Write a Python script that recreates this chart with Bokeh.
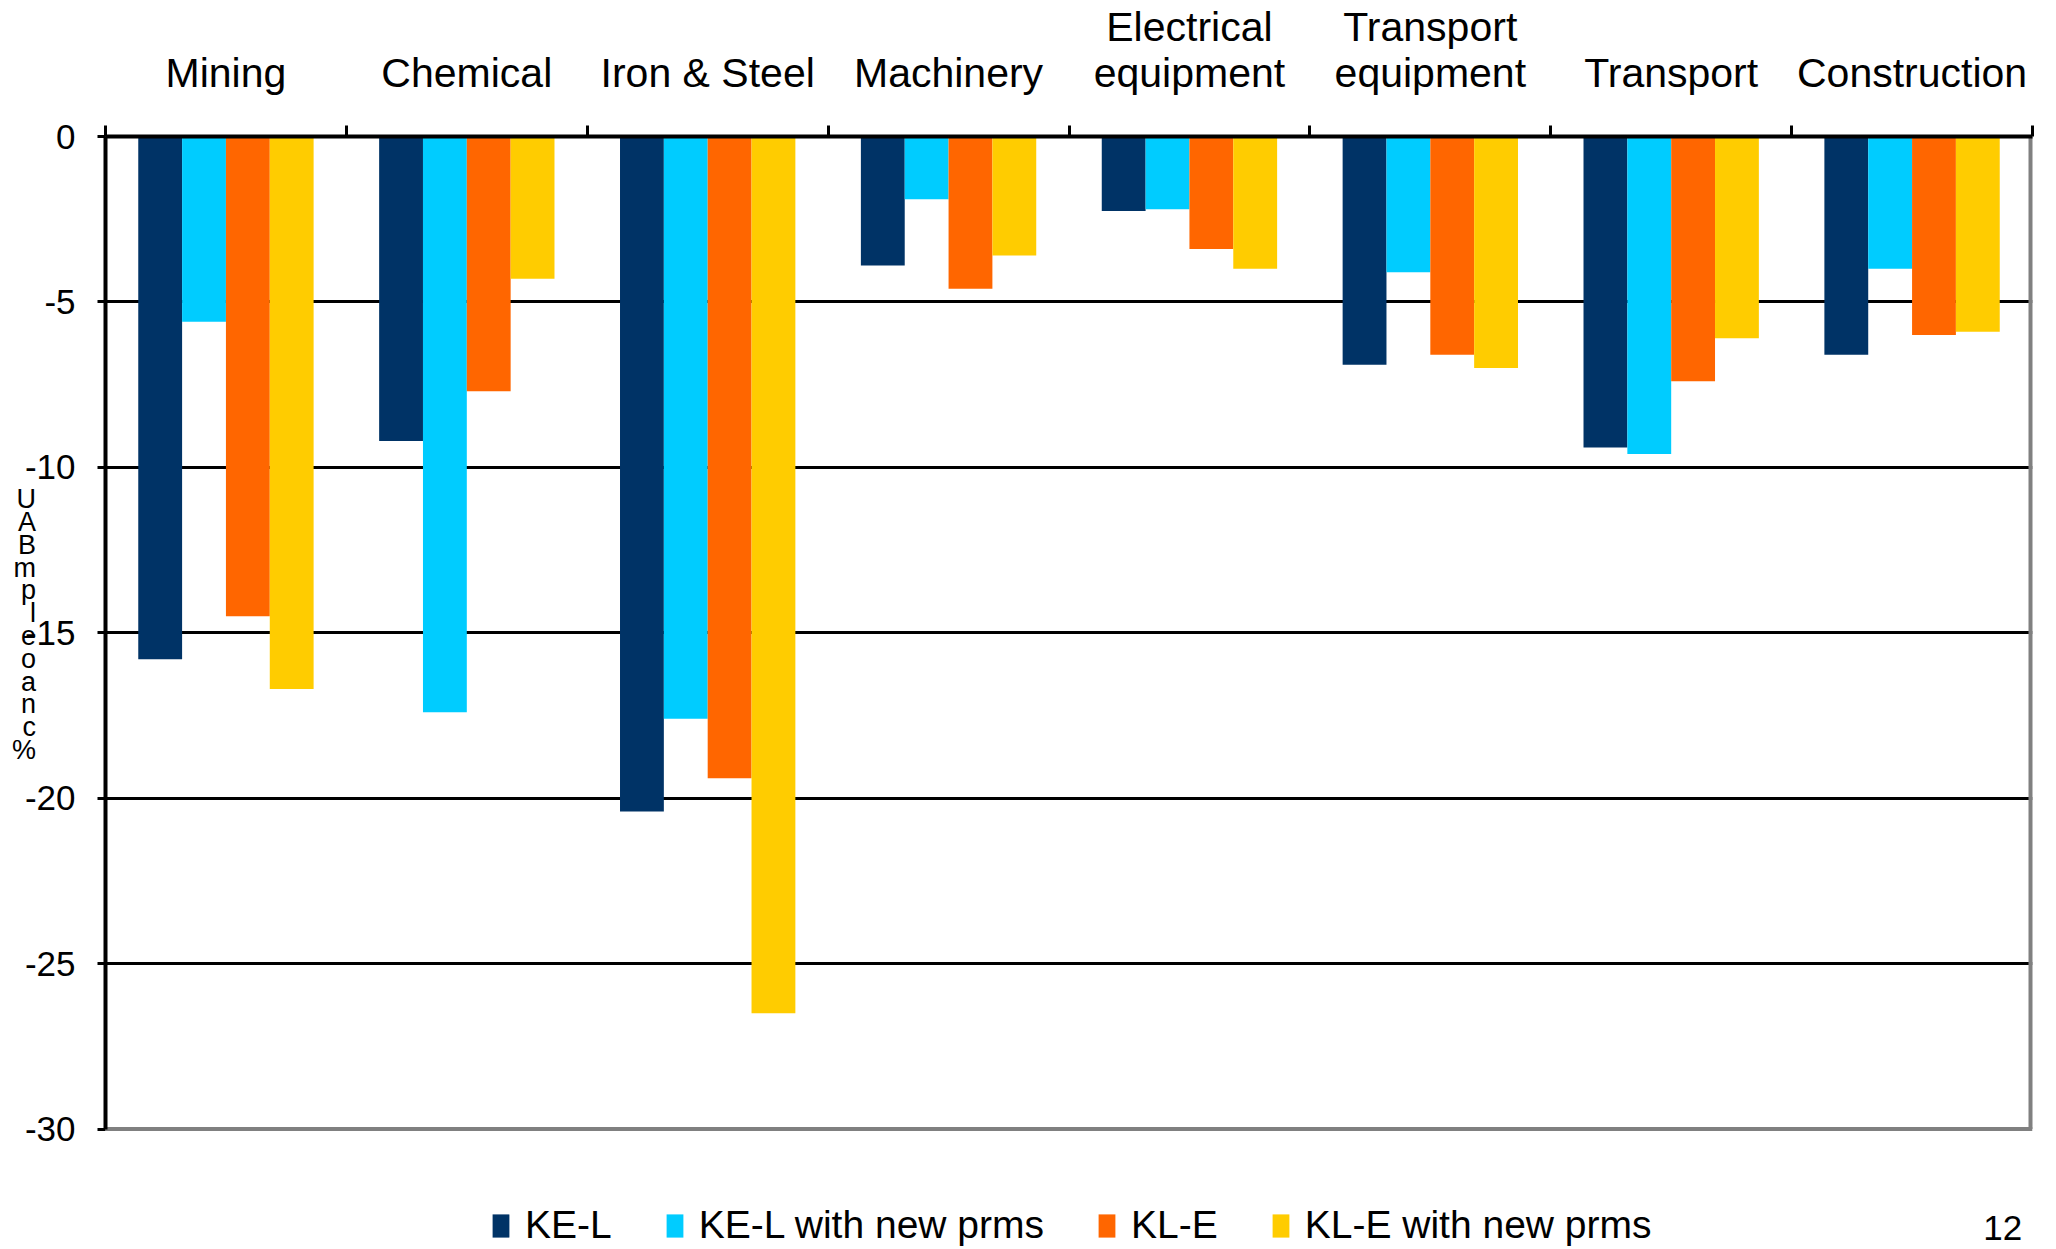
from bokeh.plotting import figure
from bokeh.models import FixedTicker, Legend, LegendItem, Range1d, ColumnDataSource, Label
from bokeh.embed import file_html
from bokeh.resources import INLINE

categories = ["Mining", "Chemical", "Iron & Steel", "Machinery",
              "Electrical\nequipment", "Transport\nequipment", "Transport", "Construction"]
series_names = ["KE-L", "KE-L with new prms", "KL-E", "KL-E with new prms"]
ke_l = [-15.8, -9.2, -20.4, -3.9, -2.25, -6.9, -9.4, -6.6]
ke_l_new = [-5.6, -17.4, -17.6, -1.9, -2.2, -4.1, -9.6, -4.0]
kl_e = [-14.5, -7.7, -19.4, -4.6, -3.4, -6.6, -7.4, -6.0]
kl_e_new = [-16.7, -4.3, -26.5, -3.6, -4.0, -7.0, -6.1, -5.9]
y_ticks = [-30, -25, -20, -15, -10, -5, 0]
y_tick_labels = ["-30", "-25", "-20", "-15", "-10", "-5", "0"]
colors = ["#003366", "#00CCFF", "#FF6600", "#FFCC00"]
y_label_chars = ["U", "A", "B", "m", "p", "l", "e", "o", "a", "n", "c", "%"]
page_number = "12"

FONT = "Liberation Sans"
n = len(categories)
Y_MIN, Y_MAX = -30, 0

# frame extends below the value axis to hold the legend (annotations are clipped to the frame)
FRAME_TOP, AXIS_BOTTOM, CANVAS_H = 131, 1128, 1249
px_per_unit = (AXIS_BOTTOM - FRAME_TOP) / (Y_MAX - Y_MIN)
y_start = Y_MAX - (CANVAS_H - FRAME_TOP) / px_per_unit

p = figure(width=2040, height=CANVAS_H, x_range=Range1d(0, n), y_range=Range1d(y_start, Y_MAX),
           x_axis_location="above", output_backend="svg", toolbar_location=None,
           min_border_left=105, min_border_right=8, min_border_top=FRAME_TOP, min_border_bottom=0)
p.background_fill_color = "white"
p.border_fill_color = "white"
p.outline_line_color = None

bar_w = 0.182
series = [ke_l, ke_l_new, kl_e, kl_e_new]
renderers = []
for k, vals in enumerate(series):
    xs = [i + 0.5 + (k - 1.5) * bar_w for i in range(n)]
    src = ColumnDataSource(dict(x=xs, top=[0] * n, bottom=vals))
    r = p.vbar(x="x", top="top", bottom="bottom", width=bar_w, source=src,
               fill_color=colors[k], line_color=None)
    renderers.append(r)

# grey plot-area border on the right and bottom
p.segment(x0=[0, n], y0=[Y_MIN, Y_MIN], x1=[n, n], y1=[Y_MIN, Y_MAX],
          line_color="#808080", line_width=[4, 8])

# top axis: category labels at centres, ticks at boundaries
xa = p.xaxis[0]
xa.ticker = FixedTicker(ticks=[i + 0.5 for i in range(n)], minor_ticks=list(range(n + 1)))
xa.major_label_overrides = {i + 0.5: categories[i] for i in range(n)}
xa.major_tick_line_color = None
xa.major_tick_out = 0
xa.major_tick_in = 0
xa.minor_tick_line_color = "black"
xa.minor_tick_line_width = 3
xa.minor_tick_out = 11
xa.minor_tick_in = 0
xa.axis_line_color = "black"
xa.axis_line_width = 4
xa.major_label_text_font = FONT
xa.major_label_text_font_size = "41px"
xa.major_label_text_color = "black"
xa.major_label_text_line_height = 1.0
xa.major_label_standoff = 30

ya = p.yaxis[0]
ya.bounds = (Y_MIN, Y_MAX)
ya.ticker = FixedTicker(ticks=y_ticks)
ya.major_label_overrides = {t: s for t, s in zip(y_ticks, y_tick_labels)}
ya.minor_tick_line_color = None
ya.major_tick_line_color = "black"
ya.major_tick_line_width = 3
ya.major_tick_out = 8
ya.major_tick_in = 0
ya.axis_line_color = "black"
ya.axis_line_width = 4
ya.major_label_text_font = FONT
ya.major_label_text_font_size = "35px"
ya.major_label_text_color = "black"
ya.major_label_standoff = 22
# stacked title; trailing blank lines lift it to the centre of the value axis
ya.axis_label = "\n".join(y_label_chars + [" "] * 6)
ya.axis_label_orientation = "horizontal"
ya.axis_label_text_font = FONT
ya.axis_label_text_font_size = "27px"
ya.axis_label_text_font_style = "normal"
ya.axis_label_text_color = "black"
ya.axis_label_text_line_height = 0.76
ya.axis_label_standoff = -14

p.xgrid.grid_line_color = None
p.ygrid.ticker = FixedTicker(ticks=y_ticks[1:-1])
p.ygrid.grid_line_color = "black"
p.ygrid.grid_line_width = 3

legend = Legend(items=[LegendItem(label=series_names[k], renderers=[renderers[k]]) for k in range(4)],
                orientation="horizontal", location=(385, 2),
                label_text_font=FONT, label_text_font_size="39px", label_text_color="black",
                glyph_width=21, glyph_height=29, spacing=52, label_standoff=14,
                border_line_color=None, background_fill_alpha=0, padding=4, margin=0)
p.add_layout(legend, "center")

p.add_layout(Label(x=(1983 - 105) / 240.9, y=y_start + 0.3, text=page_number,
                   text_font=FONT, text_font_size="35px", text_color="black",
                   text_align="left", text_baseline="bottom"))

open("out.html", "w").write(file_html(p, INLINE))
